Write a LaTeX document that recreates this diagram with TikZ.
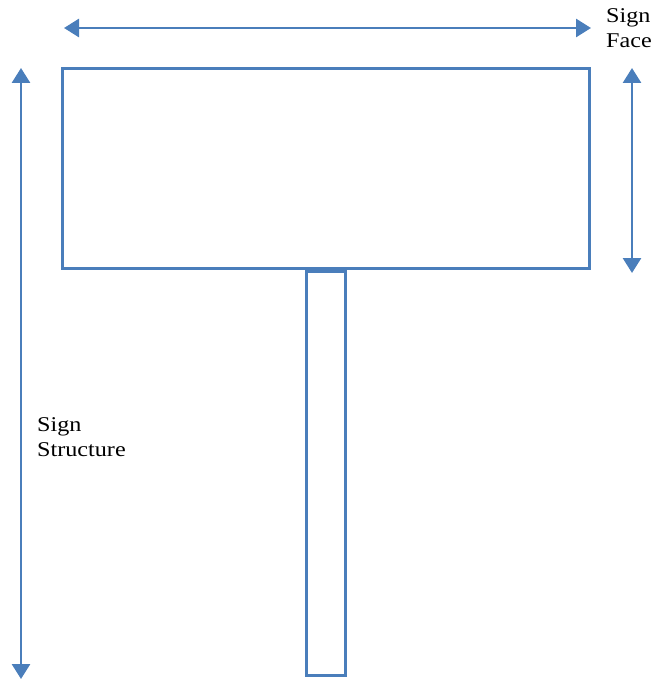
\documentclass[tikz,border=0pt]{standalone}
\usepackage{fontspec}
\setmainfont[FakeStretch=1.15]{Liberation Serif}
\usetikzlibrary{arrows.meta}
\definecolor{signblue}{HTML}{4A7EBB}
\begin{document}
\begin{tikzpicture}[x=1pt,y=-1pt,
  panel/.style={draw=signblue,line width=2.8pt,inner sep=0pt,outer sep=0pt,rectangle},
  dim/.style={draw=signblue,line width=2.8pt,{Triangle[width=18pt,length=15pt]}-{Triangle[width=18pt,length=15pt]}},
  lbl/.style={font=\fontsize{21}{25}\selectfont,align=left,inner sep=0pt,anchor=base west}]
\useasboundingbox (0,0) rectangle (654,682);
\node[panel,minimum width=527pt,minimum height=200pt] (face) at (326,168.5) {};
\node[panel,minimum width=39pt,minimum height=404pt] (post) at (326,473.5) {};
\coordinate (tl) at (64,28);
\coordinate (tr) at (591,28);
\coordinate (lt) at (21,68);
\coordinate (lb) at (21,679);
\coordinate (rt) at (632,68);
\coordinate (rb) at (632,273);
\draw[dim] (tl) -- (tr);
\draw[dim] (lt) -- (lb);
\draw[dim] (rt) -- (rb);
\node[lbl] (facelbl) at (606,48) {Sign\\Face};
\node[lbl] (structlbl) at (37,456) {Sign\\Structure};
\end{tikzpicture}
\end{document}
